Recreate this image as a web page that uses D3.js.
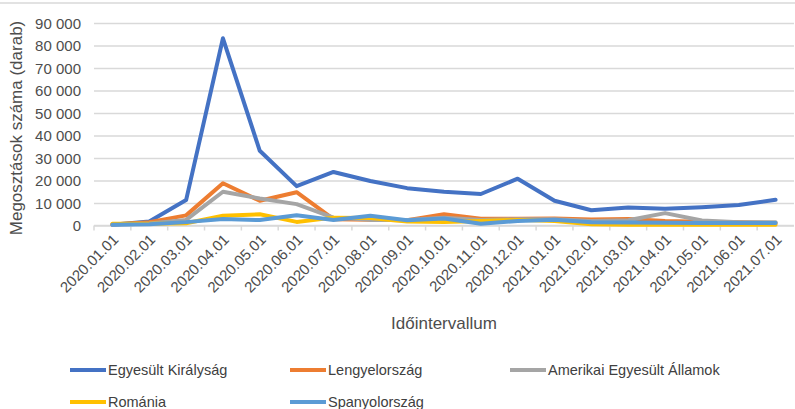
<!DOCTYPE html>
<html lang="hu">
  <head>
    <meta charset="UTF-8" />
    <title>Megosztások száma</title>
    <script src="https://d3js.org/d3.v7.min.js"></script>
    <style>
      body { margin: 0; background: #fff; }
      svg { display: block; font-family: "Liberation Sans", Arial, sans-serif; }
      .tick-label { font-size: 15px; fill: #4d4d4d; }
      .axis-title { font-size: 17px; fill: #4d4d4d; }
      .legend-text { font-size: 14.5px; fill: #404040; }
    </style>
  </head>
  <body>
    <svg width="795" height="409"></svg>
    <script>
      // months on the x axis
      const months = [
        "2020.01.01", "2020.02.01", "2020.03.01", "2020.04.01", "2020.05.01",
        "2020.06.01", "2020.07.01", "2020.08.01", "2020.09.01", "2020.10.01",
        "2020.11.01", "2020.12.01", "2021.01.01", "2021.02.01", "2021.03.01",
        "2021.04.01", "2021.05.01", "2021.06.01", "2021.07.01"
      ];
      const seriesNames = [
        "Egyesült Királyság", "Lengyelország", "Amerikai Egyesült Államok",
        "Románia", "Spanyolország"
      ];
      const seriesColors = ["#4472C4", "#ED7D31", "#A5A5A5", "#FFC000", "#5B9BD5"];

      // values (darab)
      const ukValues = [300, 1800, 11300, 83200, 33200, 17500, 23800, 19800, 16600, 15000,
        14000, 20800, 11000, 6800, 8000, 7400, 8100, 9100, 11400];
      const plValues = [500, 1500, 4500, 18800, 11000, 14800, 2800, 2500, 2300, 5000,
        3000, 3000, 3100, 2700, 2900, 2000, 1700, 1400, 1100];
      const usValues = [300, 900, 2500, 15000, 12000, 9500, 3500, 2500, 2500, 3500,
        2500, 2800, 2800, 2000, 2300, 5500, 2200, 1500, 1500];
      const roValues = [800, 800, 1000, 4300, 5000, 1600, 3500, 3300, 1800, 1600,
        2000, 2500, 2000, 500, 300, 300, 300, 300, 300];
      const esValues = [300, 600, 1500, 2900, 2400, 4600, 2400, 4300, 2300, 3100,
        800, 2000, 2600, 1400, 1300, 1200, 1100, 1100, 1100];
      const allValues = [ukValues, plValues, usValues, roValues, esValues];

      const yTicks = [0, 10000, 20000, 30000, 40000, 50000, 60000, 70000, 80000, 90000];

      const svg = d3.select("svg");
      const plotLeft = 94, plotRight = 794, plotTop = 23, plotBottom = 225.5;

      const x = d3.scaleBand().domain(months).range([plotLeft, plotRight]);
      const y = d3.scaleLinear().domain([0, 90000]).range([plotBottom, plotTop]);
      const fmt = d => d3.format(",")(d).replace(/,/g, " ");

      // thin frame line at the top
      svg.append("line")
        .attr("x1", 0).attr("x2", 795).attr("y1", 3).attr("y2", 3)
        .attr("stroke", "#d9d9d9").attr("stroke-width", 1.5);

      // gridlines + y labels
      const yAxis = svg.append("g")
        .attr("transform", `translate(${plotLeft},0)`)
        .call(d3.axisLeft(y).tickValues(yTicks).tickSize(-(plotRight - plotLeft)).tickFormat(fmt));
      yAxis.select(".domain").remove();
      yAxis.selectAll(".tick line").attr("stroke", "#d9d9d9").attr("stroke-width", 1.5);
      yAxis.selectAll(".tick text").attr("class", "tick-label")
        .attr("x", -13).attr("dy", "0.35em");

      // x axis with ticks at category boundaries
      const xg = svg.append("g").attr("transform", `translate(0,${plotBottom})`);
      xg.append("line").attr("x1", plotLeft).attr("x2", plotRight)
        .attr("stroke", "#d9d9d9").attr("stroke-width", 1.5);
      xg.selectAll(".bt").data(months).enter().append("line")
        .attr("x1", d => x(d)).attr("x2", d => x(d))
        .attr("y1", 0).attr("y2", 5)
        .attr("stroke", "#d9d9d9").attr("stroke-width", 1.5);
      xg.selectAll(".xl").data(months).enter().append("text")
        .attr("class", "tick-label")
        .attr("text-anchor", "end")
        .attr("transform", d => `translate(${x(d) + x.bandwidth() / 2 + 7},${15}) rotate(-45)`)
        .text(d => d);

      // series lines
      const line = d3.line()
        .x((d, i) => x(months[i]) + x.bandwidth() / 2)
        .y(d => y(d));
      svg.append("g").selectAll("path").data(allValues).enter().append("path")
        .attr("d", d => line(d))
        .attr("fill", "none")
        .attr("stroke", (d, i) => seriesColors[i])
        .attr("stroke-width", 4)
        .attr("stroke-linejoin", "round")
        .attr("stroke-linecap", "round");

      // axis titles
      svg.append("text").attr("class", "axis-title")
        .attr("transform", "translate(22,128) rotate(-90)")
        .attr("text-anchor", "middle")
        .text("Megosztások száma (darab)");
      svg.append("text").attr("class", "axis-title")
        .attr("x", 444).attr("y", 329)
        .attr("text-anchor", "middle")
        .text("Időintervallum");

      // legend
      const legendPos = [[70, 370], [290, 370], [510, 370], [70, 402], [290, 402]];
      const lg = svg.append("g").selectAll("g").data(seriesNames).enter().append("g")
        .attr("transform", (d, i) => `translate(${legendPos[i][0]},${legendPos[i][1]})`);
      lg.append("line").attr("x1", 0).attr("x2", 36)
        .attr("stroke", (d, i) => seriesColors[i]).attr("stroke-width", 4);
      lg.append("text").attr("class", "legend-text")
        .attr("x", 38).attr("dy", "0.35em")
        .text(d => d);
    </script>
  </body>
</html>
